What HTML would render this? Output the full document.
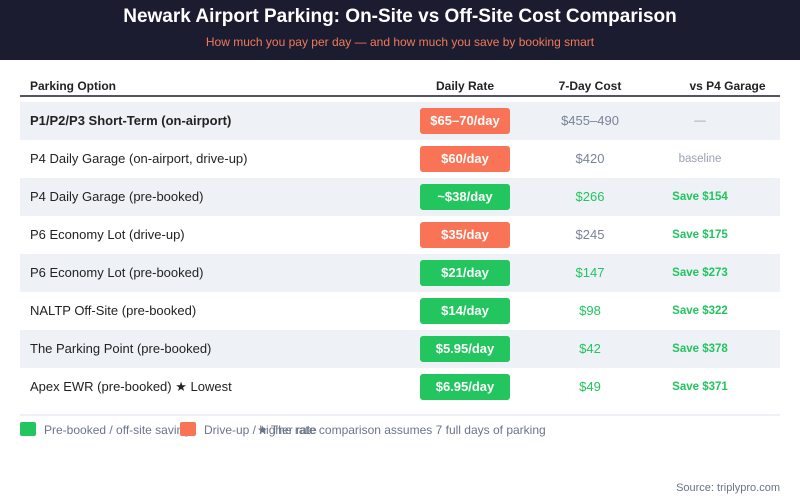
<!DOCTYPE html>
<html><head><meta charset="utf-8">
<style>
*{margin:0;padding:0;box-sizing:border-box}
body{width:800px;height:500px;background:#fff;font-family:"Liberation Sans",sans-serif;position:relative;overflow:hidden}
.hdr{position:absolute;left:0;top:0;width:800px;height:60px;background:#1c1c30}
.title{position:absolute;left:0;width:800px;top:6px;text-align:center;color:#fff;font-weight:bold;font-size:19px}
.sub{position:absolute;left:0;width:800px;top:35px;text-align:center;color:#f07a5a;font-size:12px}
.th{position:absolute;top:79px;font-size:12px;font-weight:bold;color:#222}
.hline{position:absolute;left:20px;width:760px;top:95px;height:2px;background:#505560}
.row{position:absolute;left:20px;width:760px;height:38px}
.row.alt{background:#eef2f7}
.name{position:absolute;left:10px;top:11px;font-size:13px;color:#222}
.badge{position:absolute;left:400px;top:6px;width:90px;height:26px;border-radius:3px;color:#fff;font-weight:bold;font-size:13px;text-align:center;line-height:26px}
.cost{position:absolute;left:500px;width:140px;top:11px;text-align:center;font-size:13px}
.vs{position:absolute;left:620px;width:120px;top:13px;text-align:center;font-size:11.5px}
.leg{position:absolute;top:423px;font-size:12px;color:#6b7488;white-space:nowrap}
.sw{position:absolute;top:422px;width:16px;height:14px;border-radius:2px}
</style></head><body>
<div class="hdr"></div>
<div class="title">Newark Airport Parking: On-Site vs Off-Site Cost Comparison</div>
<div class="sub">How much you pay per day — and how much you save by booking smart</div>
<div class="th" style="left:30px">Parking Option</div>
<div class="th" style="left:410px;width:110px;text-align:center">Daily Rate</div>
<div class="th" style="left:540px;width:100px;text-align:center">7-Day Cost</div>
<div class="th" style="left:670px;width:115px;text-align:center">vs P4 Garage</div>
<div class="hline"></div>
<div id="rows"></div>
<div style="position:absolute;left:20px;top:414px;width:760px;height:2px;background:#eef2f7"></div>
<div class="sw" style="left:20px;background:#22c55e"></div>
<div class="leg" style="left:44px">Pre-booked / off-site savings</div>
<div class="sw" style="left:180px;background:#f97356"></div>
<div class="leg" style="left:204px">Drive-up / higher rate</div>
<div class="leg" style="left:257px">★ The rate comparison assumes 7 full days of parking</div>
<div style="position:absolute;right:20px;top:482px;font-size:11px;color:#6b7488">Source: triplypro.com</div>
<script>
const names=["P1/P2/P3 Short-Term (on-airport)","P4 Daily Garage (on-airport, drive-up)","P4 Daily Garage (pre-booked)","P6 Economy Lot (drive-up)","P6 Economy Lot (pre-booked)","NALTP Off-Site (pre-booked)","The Parking Point (pre-booked)","Apex EWR (pre-booked) ★ Lowest"];
const rates=["$65–70/day","$60/day","~$38/day","$35/day","$21/day","$14/day","$5.95/day","$6.95/day"];
const costs=["$455–490","$420","$266","$245","$147","$98","$42","$49"];
const vsP4=["—","baseline","Save $154","Save $175","Save $273","Save $322","Save $378","Save $371"];
const kinds=["drive","drive","pre","drive","pre","pre","pre","pre"];
const root=document.getElementById('rows');
names.forEach((n,i)=>{
  const r=document.createElement('div');
  r.className='row'+(i%2===0?' alt':'');
  r.style.top=(102+i*38)+'px';
  
  
  const pre=kinds[i]==='pre';
  const nm=document.createElement('div');nm.className='name';nm.textContent=n;
  if(i===0)nm.style.fontWeight='bold';
  
  
  const b=document.createElement('div');b.className='badge';b.textContent=rates[i];
  b.style.background=pre?'#22c55e':'#f97356';
  
  
  const c=document.createElement('div');c.className='cost';c.textContent=costs[i];
  c.style.color=pre?'#22c55e':'#7a8296';
  
  
  const v=document.createElement('div');v.className='vs';v.textContent=vsP4[i];
  const save=vsP4[i].startsWith('Save');
  v.style.color=save?'#22c55e':'#9aa1b0';
  v.style.fontWeight=save?'bold':'normal';
  
  
  r.append(nm,b,c,v);root.appendChild(r);
});
</script>
</body></html>
